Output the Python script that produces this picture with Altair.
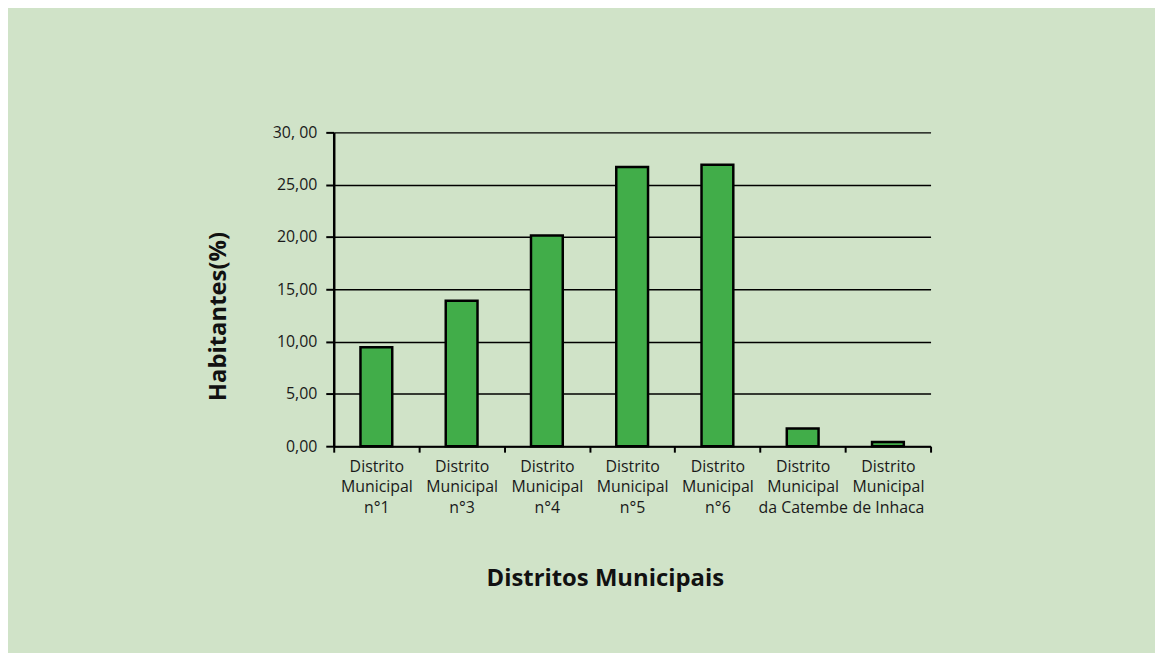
import altair as alt
import pandas as pd

categories = [
    "Distrito|Municipal|n°1",
    "Distrito|Municipal|n°3",
    "Distrito|Municipal|n°4",
    "Distrito|Municipal|n°5",
    "Distrito|Municipal|n°6",
    "Distrito|Municipal|da Catembe",
    "Distrito|Municipal|de Inhaca",
]
habitantes = [9.45, 13.9, 20.15, 26.7, 26.9, 1.7, 0.4]
y_tick_values = [0, 5, 10, 15, 20, 25, 30]
y_tick_labels = ["0,00", "5,00", "10,00", "15,00", "20,00", "25,00", "30, 00"]

df = pd.DataFrame({"distrito": categories, "pct": habitantes})

FONT = "Open Sans"
label_map = "{" + ",".join(f"'{v}':'{l}'" for v, l in zip(y_tick_values, y_tick_labels)) + "}"
y_label_expr = f"{label_map}[toString(datum.value)]"

chart = (
    alt.Chart(df)
    .mark_bar(size=32, color="#41AD49", stroke="#000000", strokeWidth=2.5)
    .encode(
        x=alt.X(
            "distrito:N",
            sort=categories,
            scale=alt.Scale(paddingInner=0, paddingOuter=0),
            axis=alt.Axis(
                title="Distritos Municipais",
                titleFont=FONT,
                titleFontSize=24,
                titleFontWeight="bold",
                titleColor="#111111",
                titleX=273,
                titleY=133,
                titleAlign="center",
                titleBaseline="middle",
                labelExpr="split(datum.label, '|')",
                labelAngle=0,
                labelFont=FONT,
                labelFontSize=16,
                labelColor="#1a1a1a",
                labelLineHeight=21,
                labelPadding=6,
                labelBaseline="top",
                tickBand="extent",
                tickSize=6,
                tickWidth=2,
                tickColor="#000000",
                domainColor="#000000",
                domainWidth=2,
                grid=False,
            ),
        ),
        y=alt.Y(
            "pct:Q",
            scale=alt.Scale(domain=[0, 30], nice=False),
            axis=alt.Axis(
                title="Habitantes(%)",
                titleFont=FONT,
                titleFontSize=24,
                titleFontWeight="bold",
                titleColor="#111111",
                titleAngle=-90,
                titleX=-116,
                titleY=185,
                titleAlign="center",
                titleBaseline="middle",
                values=y_tick_values,
                labelExpr=y_label_expr,
                labelFont=FONT,
                labelFontSize=16,
                labelColor="#1a1a1a",
                labelPadding=9,
                tickSize=8,
                tickWidth=2,
                tickColor="#000000",
                domainColor="#000000",
                domainWidth=2.5,
                grid=True,
                gridColor="#000000",
                gridWidth=1.5,
                gridOpacity=1,
            ),
        ),
    )
    .properties(
        width=601,
        height=316,
        background="#D0E3C8",
        autosize=alt.AutoSizeParams(type="none"),
        padding={"left": 328, "top": 123, "right": 226, "bottom": 206},
    )
    .configure_view(stroke=None)
)

chart.save("out.html", embed_options={"renderer": "svg", "actions": False})
